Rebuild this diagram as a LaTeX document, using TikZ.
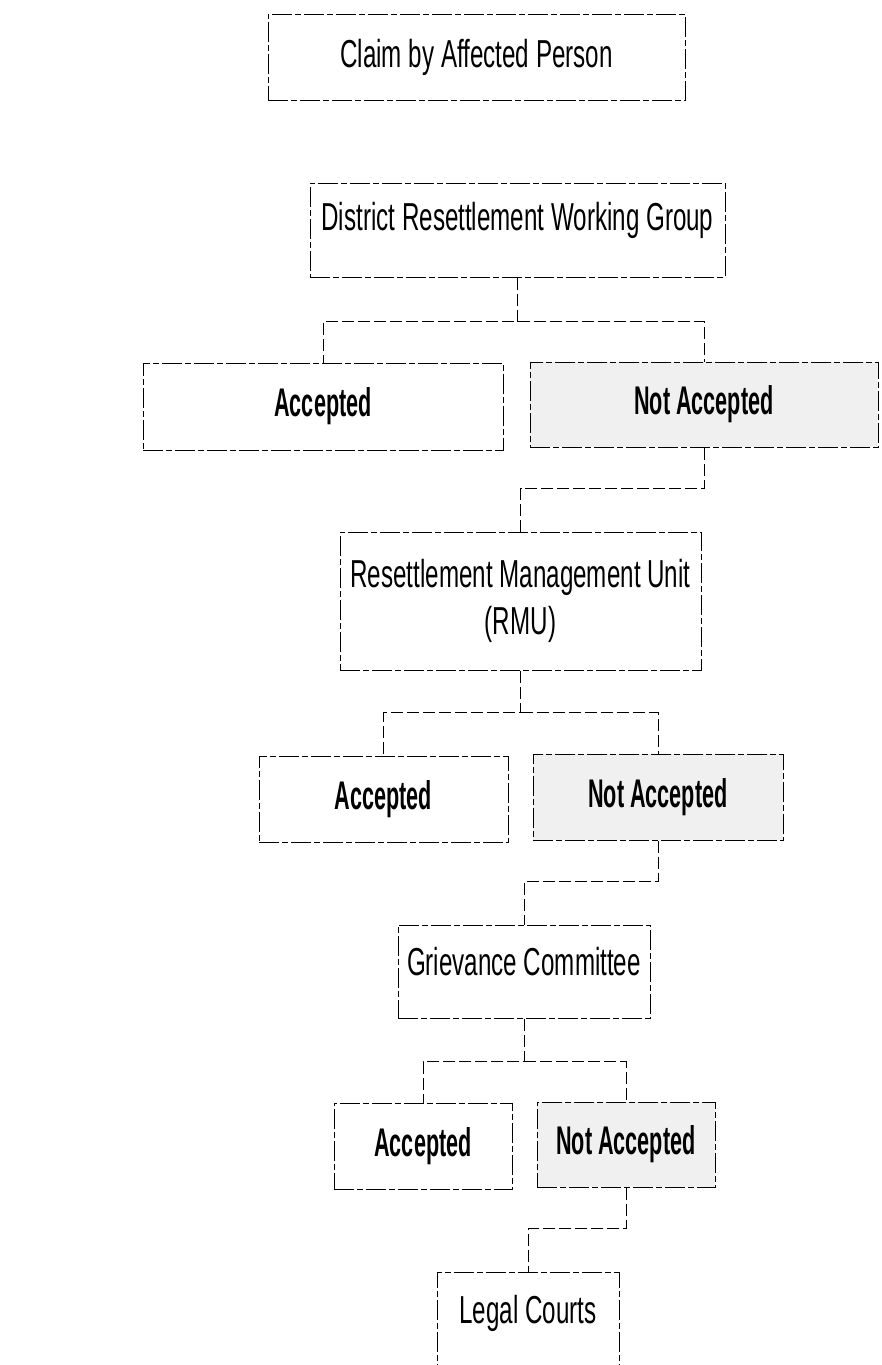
\documentclass[tikz,border=0pt]{standalone}
\usepackage{fontspec}
\setmainfont{Liberation Sans}[FakeStretch=0.62]
\newfontfamily\choicefont{Liberation Sans}[FakeStretch=0.54]
\usepackage{tikz}

\begin{document}
\begin{tikzpicture}[x=0.5pt,y=-0.5pt]
			\tikzstyle{every node} = [font = \fontsize{19.5}{23.4}\selectfont]
			\tikzstyle{box} = [draw, line width=0.5pt, dash pattern=on 10pt off 1.5pt on 3pt off 1.5pt, inner sep=0pt, align=center]
			\tikzstyle{choice} = [box, font = \choicefont\bfseries\fontsize{20}{24}\selectfont]
			\tikzstyle{rejected} = [choice, fill=black!6]
			\tikzstyle{link} = [line width=0.5pt, dash pattern=on 6pt off 2pt]
				\useasboundingbox (0,0) rectangle (882,1365);
				\node[box, minimum width=208.5pt, minimum height=43pt] (claim) at (476.5,57) {Claim by Affected Person};
				\node[box, minimum width=207.5pt, minimum height=47pt, text depth=14pt] (district) at (517.5,230) {District Resettlement Working Group};
				\node[choice, minimum width=180pt, minimum height=43.5pt] (acc1) at (323,406.5) {Accepted};
				\node[rejected, minimum width=174pt, minimum height=42.5pt] (nacc1) at (704,404.5) {Not Accepted};
				\node[box, minimum width=180.5pt, minimum height=69pt] (rmu) at (520.5,601) {Resettlement Management Unit\\(RMU)};
				\node[choice, minimum width=124.5pt, minimum height=43pt] (acc2) at (383.5,799) {Accepted};
				\node[rejected, minimum width=125pt, minimum height=43pt] (nacc2) at (658,797) {Not Accepted};
				\node[box, minimum width=126pt, minimum height=46.5pt, text depth=10.5pt] (griev) at (524,971.5) {Grievance Committee};
				\node[choice, minimum width=89pt, minimum height=43pt] (acc3) at (423,1146) {Accepted};
				\node[rejected, minimum width=89pt, minimum height=42.5pt] (nacc3) at (626,1144.5) {Not Accepted};
				\node[box, anchor=north, minimum width=91pt, text height=25.5pt, text depth=35pt] (courts) at (528,1272) {Legal Courts};
				\path[draw,link] (district.south) -- ++(0,44) coordinate (fork1) -| (acc1.north);
				\path[draw,link] (fork1) -| (nacc1.north);
				\path[draw,link] (nacc1.south) -- ++(0,41) -| (rmu.north);
				\path[draw,link] (rmu.south) -- ++(0,42) coordinate (fork2) -| (acc2.north);
				\path[draw,link] (fork2) -| (nacc2.north);
				\path[draw,link] (nacc2.south) -- ++(0,41) -| (griev.north);
				\path[draw,link] (griev.south) -- ++(0,43) coordinate (fork3) -| (acc3.north);
				\path[draw,link] (fork3) -| (nacc3.north);
				\path[draw,link] (nacc3.south) -- ++(0,41) -| (courts.north);
\end{tikzpicture}
\end{document}
